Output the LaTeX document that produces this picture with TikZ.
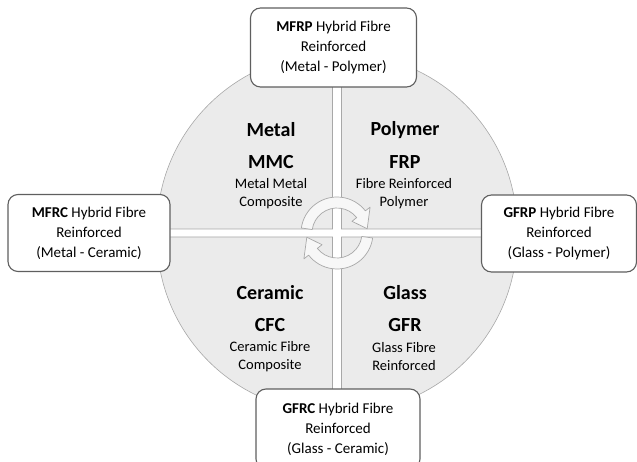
\documentclass[tikz,border=0pt]{standalone}
\usepackage{fontspec}
\setmainfont{Carlito}
\usepackage{tikz}

\definecolor{quadfill}{HTML}{EBEBEB}
\definecolor{quadline}{HTML}{A8A8A8}
\definecolor{boxline}{HTML}{5F5F5F}
\definecolor{cycfill}{HTML}{F7F7F7}

\tikzset{
  quad/.style={fill=quadfill, draw=quadline, line width=0.6pt},
  cyc/.style={fill=cycfill, draw=quadline, line width=0.7pt, line join=round},
  hybbox/.style={draw=boxline, fill=white, line width=1.1pt, rounded corners=10pt,
    align=center, font=\fontsize{15}{20}\selectfont, inner sep=0pt},
  head/.style={font=\fontsize{20}{24}\selectfont\bfseries},
  sub/.style={align=center, font=\fontsize{14.5}{18}\selectfont},
}

\begin{document}
\begin{tikzpicture}[x=1pt,y=-1pt]
   \useasboundingbox (0,0) rectangle (637,462);
   % Quadrants
   \filldraw[quad] (332.5,229) -- ++(-175.5,0) arc (180:270:175.5) -- cycle;
   \filldraw[quad] (341.5,229) -- ++(0,-175.5) arc (270:360:175.5) -- cycle;
   \filldraw[quad] (332.5,237) -- ++(0,175.5) arc (90:180:175.5) -- cycle;
   \filldraw[quad] (341.5,237) -- ++(175.5,0) arc (0:90:175.5) -- cycle;
   % Cycle arrows
   \begin{scope}[shift={(337,233)}]
     \filldraw[cyc] (188:36) arc (188:322:36) -- (322:42) -- (352:30.5)
       -- (322:19) -- (322:25) arc (322:188:25) -- cycle;
     \filldraw[cyc] (8:36) arc (8:142:36) -- (142:42) -- (172:30.5)
       -- (142:19) -- (142:25) arc (142:8:25) -- cycle;
   \end{scope}
   % Metal
   \node[head] (metal) at (271,130) {Metal};
   \node[head] (mmc) at (271,162) {MMC};
   \node[sub] (mmctext) at (271,194) {Metal Metal\\Composite};
   % Polymer
   \node[head] (polymer) at (405,130) {Polymer};
   \node[head] (frp) at (405,162) {FRP};
   \node[sub] (frptext) at (404,194) {Fibre Reinforced\\Polymer};
   % Ceramic
   \node[head] (ceramic) at (270,293) {Ceramic};
   \node[head] (cfc) at (270,325) {CFC};
   \node[sub] (cfctext) at (270,357) {Ceramic Fibre\\Composite};
   % Glass
   \node[head] (glass) at (405,293) {Glass};
   \node[head] (gfr) at (405,325) {GFR};
   \node[sub] (gfrtext) at (404,357) {Glass Fibre\\Reinforced};
   % Hybrids
   \node[hybbox, minimum width=166pt, minimum height=79pt] (mfrp) at (333.5,47.5)
     {\textbf{MFRP} Hybrid Fibre\\Reinforced\\(Metal - Polymer)};
   \node[hybbox, minimum width=162pt, minimum height=77pt] (mfrc) at (89,233)
     {\textbf{MFRC} Hybrid Fibre\\Reinforced\\(Metal - Ceramic)};
   \node[hybbox, minimum width=155pt, minimum height=77pt] (gfrp) at (559,233.5)
     {\textbf{GFRP} Hybrid Fibre\\Reinforced\\(Glass - Polymer)};
   \node[hybbox, minimum width=164pt, minimum height=80pt] (gfrc) at (338,429)
     {\textbf{GFRC} Hybrid Fibre\\Reinforced\\(Glass - Ceramic)};
\end{tikzpicture}
\end{document}
